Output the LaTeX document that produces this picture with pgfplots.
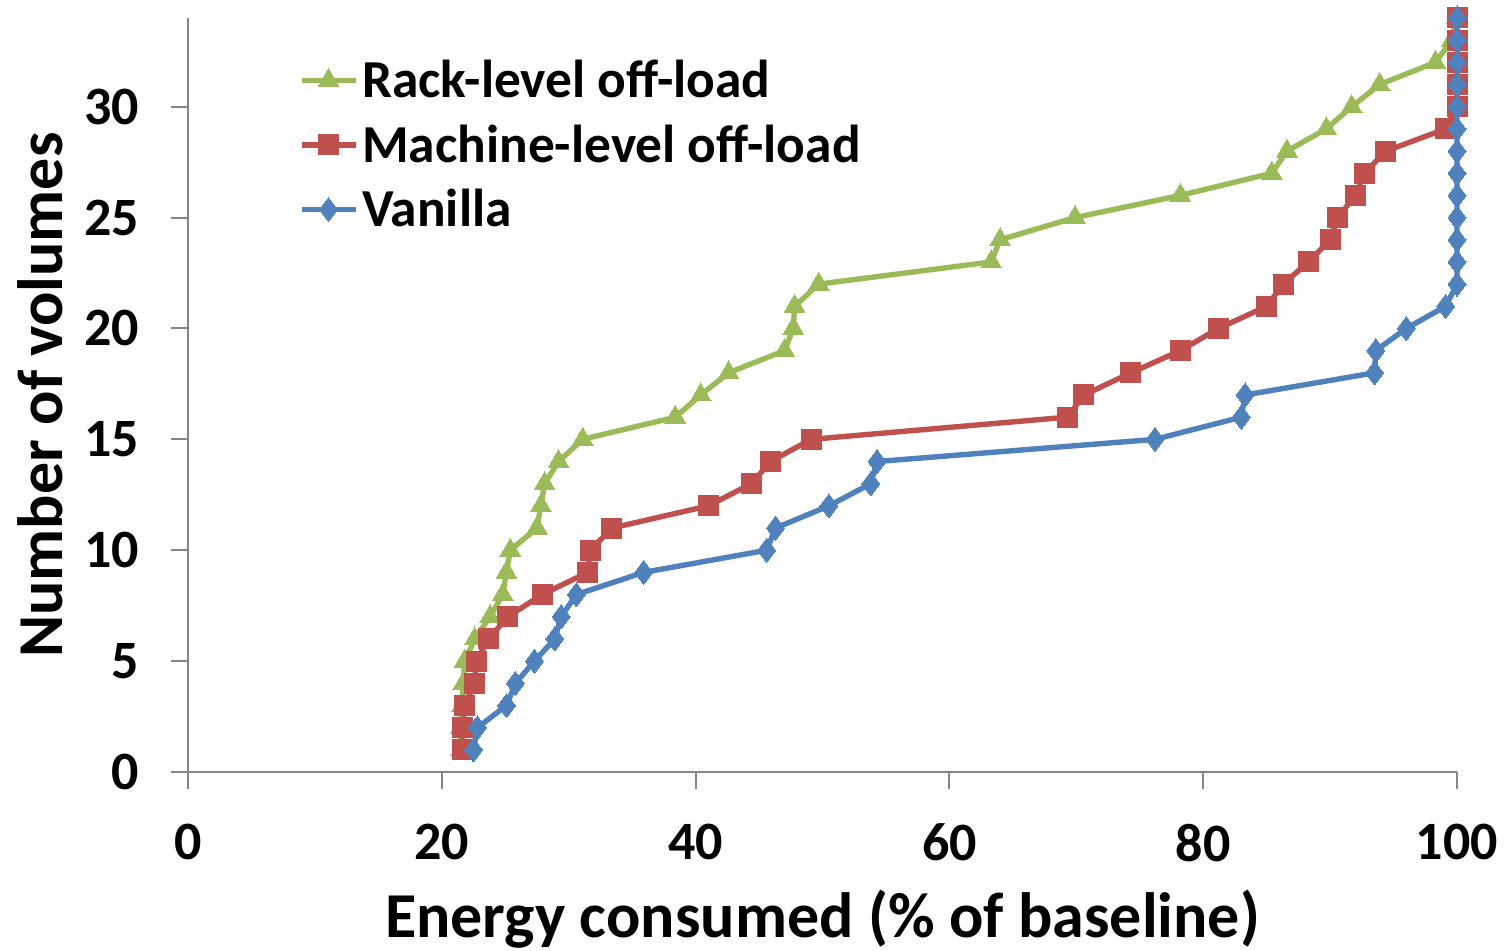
\documentclass[border=0pt]{standalone}
\usepackage{fontspec}
\setmainfont{Carlito}
\usepackage{pgfplots}
\pgfplotsset{compat=1.18}
\definecolor{cgreen}{HTML}{9BBB59}
\definecolor{cred}{HTML}{C0504D}
\definecolor{cblue}{HTML}{4F81BD}
\definecolor{caxis}{HTML}{868686}
\begin{document}
\begin{tikzpicture}
\path[use as bounding box] (-94pt,-89.5pt) rectangle (659.5pt,386pt);
\begin{axis}[
  at={(0,0)}, anchor=origin,
  scale only axis, width=634.5pt, height=377pt,
  xmin=0, xmax=100, ymin=0, ymax=34,
  xtick={0,20,40,60,80,100}, ytick={0,5,10,15,20,25,30},
  axis x line*=bottom, axis y line*=left,
  axis line style={caxis, line width=1pt, -},
  tick style={caxis, line width=1pt},
  tick align=outside, major tick length=8.5pt,
  every tick label/.style={font=\fontsize{27}{31}\selectfont\bfseries},
  /pgf/number format/assume math mode=true,
  xticklabel style={yshift=-14pt},
  yticklabel style={xshift=-12.5pt},
  xlabel={Energy consumed (\% of baseline)},
  ylabel={Number of volumes},
  label style={font=\fontsize{32}{37}\selectfont\bfseries},
  xlabel style={at={(axis description cs:0.5,0)}, anchor=center, yshift=-73.5pt},
  ylabel style={at={(axis description cs:0,0.5)}, anchor=center, yshift=74pt},
  clip=false,
  legend style={draw=none, fill=none, at={(0.087,0.950)}, anchor=north west,
    font=\fontsize{26.7}{31}\selectfont\bfseries, row sep=8pt,
    inner sep=0pt},
  legend cell align=left,
  legend image code/.code={
    \draw[#1, mark repeat=2, mark phase=2] plot coordinates {(0pt,0pt) (13.5pt,0pt) (27pt,0pt)};
  },
]
\addplot[cgreen, line width=2.7pt, mark=triangle*, mark size=6pt, mark options={solid, line width=0pt}] coordinates {
(21.5,1)(21.5,2)(21.6,3)(21.7,4)(21.8,5)(22.6,6)(23.8,7)(24.8,8)(25.1,9)(25.4,10)
(27.5,11)(27.8,12)(28.1,13)(29.2,14)(31.1,15)(38.4,16)(40.4,17)(42.6,18)(47.0,19)(47.7,20)
(47.8,21)(49.7,22)(63.3,23)(64.0,24)(69.9,25)(78.2,26)(85.4,27)(86.6,28)(89.7,29)(91.7,30)
(93.9,31)(98.3,32)(99.6,33)(100,34)};
\addlegendentry{Rack-level off-load}
\addplot[cred, line width=2.7pt, mark=square*, mark size=5pt, mark options={solid, line width=0pt}] coordinates {
(21.6,1)(21.6,2)(21.8,3)(22.6,4)(22.7,5)(23.7,6)(25.2,7)(27.9,8)(31.5,9)(31.7,10)
(33.4,11)(41.0,12)(44.4,13)(45.9,14)(49.1,15)(69.3,16)(70.6,17)(74.3,18)(78.2,19)(81.2,20)
(85.0,21)(86.3,22)(88.3,23)(90.0,24)(90.6,25)(92.0,26)(92.7,27)(94.4,28)(99.1,29)(100,30)
(100,31)(100,32)(100,33)(100,34)};
\addlegendentry{Machine-level off-load}
\addplot[cblue, line width=2.7pt, mark=diamond*, mark size=6pt, mark options={solid, line width=0pt}] coordinates {
(22.5,1)(22.8,2)(25.1,3)(25.8,4)(27.3,5)(28.9,6)(29.4,7)(30.6,8)(35.9,9)(45.6,10)
(46.3,11)(50.5,12)(53.8,13)(54.3,14)(76.2,15)(83.0,16)(83.3,17)(93.5,18)(93.6,19)(96.0,20)
(99.1,21)(100,22)(100,23)(100,24)(100,25)(100,26)(100,27)(100,28)(100,29)(100,30)
(100,31)(100,32)(100,33)(100,34)};
\addlegendentry{Vanilla}
\end{axis}
\end{tikzpicture}
\end{document}
